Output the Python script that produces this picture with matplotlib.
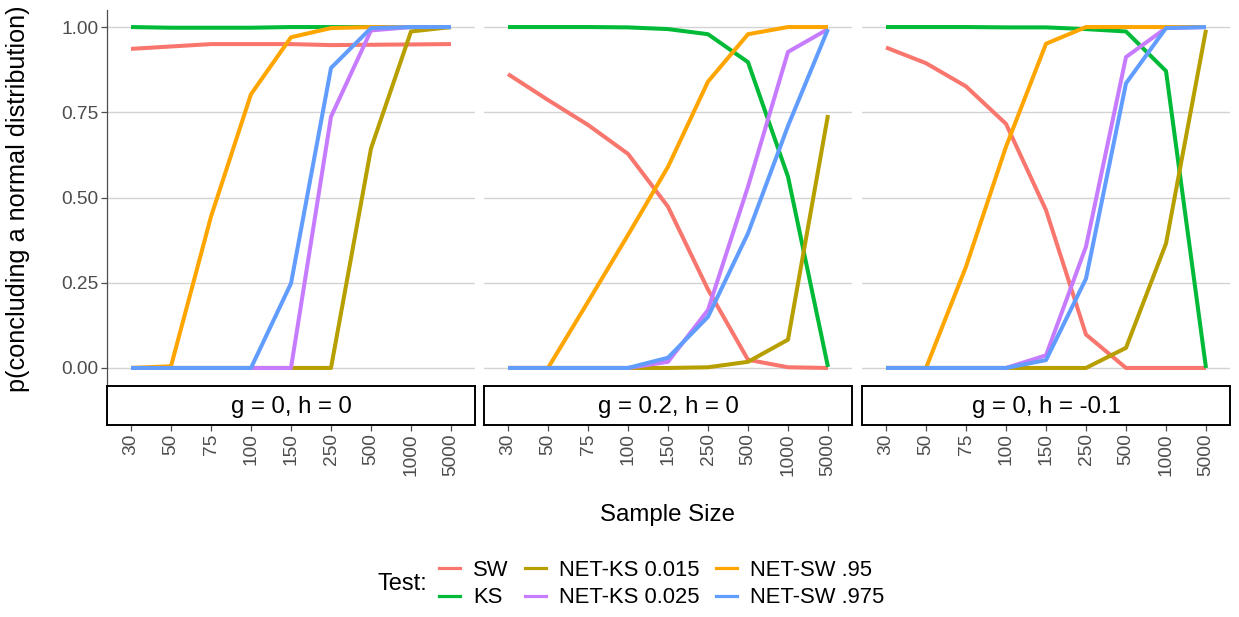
import matplotlib
matplotlib.use("Agg")
import matplotlib.pyplot as plt
from matplotlib.lines import Line2D

plt.rcParams['font.family'] = ['Liberation Sans', 'DejaVu Sans']

sizes = ['30', '50', '75', '100', '150', '250', '500', '1000', '5000']
tests = ['SW', 'KS', 'NET-KS 0.015', 'NET-KS 0.025', 'NET-SW .95', 'NET-SW .975']
colors = ['#F8766D', '#00BA38', '#B79F00', '#C77CFF', '#FFA500', '#619CFF']
panel_titles = ['g = 0, h = 0', 'g = 0.2, h = 0', 'g = 0, h = -0.1']

# g = 0, h = 0
sw_1 = [0.936, 0.943, 0.950, 0.950, 0.950, 0.947, 0.948, 0.949, 0.950]
ks_1 = [1.000, 0.998, 0.998, 0.998, 1.000, 1.000, 1.000, 1.000, 1.000]
netks015_1 = [0, 0, 0, 0, 0, 0, 0.644, 0.987, 1.0]
netks025_1 = [0, 0, 0, 0, 0, 0.737, 0.990, 1.0, 1.0]
netsw95_1 = [0, 0.005, 0.444, 0.803, 0.970, 0.997, 1.0, 1.0, 1.0]
netsw975_1 = [0, 0, 0, 0, 0.248, 0.880, 0.997, 1.0, 1.0]

# g = 0.2, h = 0
sw_2 = [0.862, 0.786, 0.713, 0.628, 0.473, 0.230, 0.024, 0.002, 0.0]
ks_2 = [1.0, 1.0, 1.0, 0.999, 0.994, 0.979, 0.897, 0.561, 0.003]
netks015_2 = [0, 0, 0, 0, 0, 0.002, 0.018, 0.083, 0.742]
netks025_2 = [0, 0, 0, 0, 0.018, 0.170, 0.532, 0.927, 0.994]
netsw95_2 = [0, 0, 0.194, 0.390, 0.590, 0.840, 0.979, 1.0, 1.0]
netsw975_2 = [0, 0, 0, 0, 0.030, 0.150, 0.395, 0.710, 0.994]

# g = 0, h = -0.1
sw_3 = [0.940, 0.894, 0.826, 0.716, 0.463, 0.098, 0.0, 0.0, 0.0]
ks_3 = [1.0, 1.0, 1.0, 0.999, 0.999, 0.994, 0.987, 0.871, 0.0]
netks015_3 = [0, 0, 0, 0, 0, 0, 0.059, 0.365, 0.992]
netks025_3 = [0, 0, 0, 0, 0.037, 0.356, 0.912, 0.997, 1.0]
netsw95_3 = [0, 0, 0.297, 0.649, 0.951, 1.0, 1.0, 1.0, 1.0]
netsw975_3 = [0, 0, 0, 0, 0.023, 0.262, 0.835, 0.997, 1.0]

panels = [
    [sw_1, ks_1, netks015_1, netks025_1, netsw95_1, netsw975_1],
    [sw_2, ks_2, netks015_2, netks025_2, netsw95_2, netsw975_2],
    [sw_3, ks_3, netks015_3, netks025_3, netsw95_3, netsw975_3],
]

W, H = 1239, 617
fig = plt.figure(figsize=(W / 100, H / 100), dpi=100)


def box(x, y_top, w, h):
    # pixel box (from top-left) -> figure fraction rect
    return [x / W, 1 - (y_top + h) / H, w / W, h / H]


grey = '#4d4d4d'
xpos = list(range(1, len(sizes) + 1))
lefts = [107, 484, 862]
pw = 368

for k, series in enumerate(panels):
    ax = fig.add_axes(box(lefts[k], 10, pw, 375))
    for vals, c in zip(series, colors):
        ax.plot(xpos, vals, color=c, lw=2.9, solid_capstyle='butt', zorder=3)
    ax.set_xlim(0.4, 9.6)
    ax.set_ylim(-0.05, 1.05)
    ax.set_yticks([0, 0.25, 0.5, 0.75, 1.0])
    ax.yaxis.grid(True, color='#d3d3d3', lw=1.0)
    ax.set_axisbelow(True)
    ax.set_xticks([])
    for s in ['top', 'right', 'bottom', 'left']:
        ax.spines[s].set_visible(False)
    if k == 0:
        ax.spines['left'].set_visible(True)
        ax.spines['left'].set_color(grey)
        ax.spines['left'].set_linewidth(0.9)
        ax.set_yticklabels(['0.00', '0.25', '0.50', '0.75', '1.00'])
        ax.tick_params(axis='y', length=4, width=0.9, color=grey,
                       labelcolor=grey, labelsize=13.8, pad=2)
    else:
        ax.tick_params(axis='y', length=0, labelleft=False)

    # facet strip underneath the panel, carries the x ticks
    st = fig.add_axes(box(lefts[k], 386, pw, 39))
    st.set_xlim(0.4, 9.6)
    st.set_ylim(0, 1)
    st.set_yticks([])
    st.set_xticks(xpos)
    st.set_xticklabels(sizes, rotation=90, va='top', ha='center')
    st.tick_params(axis='x', length=4, width=0.9, color=grey,
                   labelcolor=grey, labelsize=13.8, pad=2)
    for s in st.spines.values():
        s.set_color('black')
        s.set_linewidth(1.4)
    st.text(0.5, 0.47, panel_titles[k], transform=st.transAxes,
            ha='center', va='center', fontsize=17.3, color='black')

fig.text(18 / W, 1 - 199 / H, 'p(concluding a normal distribution)',
         rotation=90, ha='center', va='center', fontsize=18.2)
fig.text(668 / W, 1 - 515 / H, 'Sample Size', ha='center', va='center',
         fontsize=17.3)

handles = [Line2D([], [], color=c, lw=2.3) for c in colors]
fig.text(402 / W, 1 - 584 / H, 'Test:', ha='center', va='center', fontsize=17)
fig.legend(handles, tests, ncol=3, frameon=False, fontsize=15.8,
           loc='center left', bbox_to_anchor=(439 / W, 1 - 584 / H),
           handlelength=0.95, handletextpad=0.6, columnspacing=0.75,
           labelspacing=0.3, borderaxespad=0, borderpad=0)

fig.savefig('out.png', dpi=100)
